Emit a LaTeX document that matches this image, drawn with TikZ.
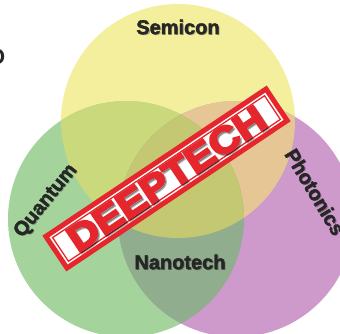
\documentclass[tikz,border=0pt]{standalone}
\usepackage{fontspec}
\setmainfont{Liberation Sans}
\usepackage{graphicx}
\definecolor{cy}{HTML}{F4EF9D}
\definecolor{cg}{HTML}{A4D49C}
\definecolor{cp}{HTML}{CE99CB}
\definecolor{cyg}{HTML}{C9D97B}
\definecolor{cyp}{HTML}{E6C695}
\definecolor{cgp}{HTML}{90AD8D}
\definecolor{cygp}{HTML}{C5C873}
\definecolor{stampred}{HTML}{E5262D}
\definecolor{labelgray}{HTML}{262626}
\newcommand{\heavytext}[2]{\special{pdf:literal 2 Tr #1 w}#2\special{pdf:literal 0 Tr}}
\newcommand{\deeptxt}{\resizebox{230pt}{25.5pt}{\bfseries\heavytext{0.55}{DEEPTECH}}}
\begin{document}
\begin{tikzpicture}[x=1pt,y=-1pt,
  lbl/.style={font=\bfseries\fontsize{20}{20}\selectfont, text=labelgray, inner sep=0pt},
  lblshadow/.style={font=\bfseries\fontsize{20}{20}\selectfont, text=black, opacity=0.3, inner sep=0pt},
  stampouter/.style={rotate=33.8, draw=stampred, fill=white, line width=5pt, minimum width=265pt, minimum height=38pt, inner sep=0pt},
  stampinner/.style={rotate=33.8, draw=stampred, line width=1.3pt, minimum width=255pt, minimum height=28.5pt, inner sep=0pt},
  stamptext/.style={rotate=33.8, inner sep=0pt, text=stampred},
  stampshadow/.style={rotate=33.8, inner sep=0pt, text=black, opacity=0.3}]
\useasboundingbox (0,0) rectangle (340,333);
\clip (0,0) rectangle (340,333);
\fill[white] (0,0) rectangle (340,333);
\coordinate (Y) at (178,121);
\coordinate (G) at (126,219);
\coordinate (P) at (236,219);
% base circles
\fill[cy] (Y) circle (117);
\fill[cg] (G) circle (118);
\fill[cp] (P) circle (118);
% pairwise overlaps
\begin{scope}
  \clip (Y) circle (117);
  \fill[cyg] (G) circle (118);
  \fill[cyp] (P) circle (118);
\end{scope}
\begin{scope}
  \clip (G) circle (118);
  \fill[cgp] (P) circle (118);
\end{scope}
\begin{scope}
  \clip (Y) circle (117);
  \clip (G) circle (118);
  \fill[cygp] (P) circle (118);
\end{scope}
% cropped glyph at left edge
\node[font=\bfseries\fontsize{22}{22}\selectfont, text=labelgray, anchor=east, inner sep=0pt] (frag) at (5.5,57) {O};
% labels
\node[lblshadow] at (179.2,28.2) {Semicon};
\node[lbl] (semicon) at (178,27) {\heavytext{0.4}{Semicon}};
\node[lblshadow] at (181.2,263.2) {Nanotech};
\node[lbl] (nanotech) at (180,262) {\heavytext{0.4}{Nanotech}};
\node[lblshadow, rotate=51] at (47.2,202.2) {Quantum};
\node[lbl, rotate=51] (quantum) at (46,201) {\heavytext{0.4}{Quantum}};
\node[lblshadow, rotate=-59] at (316.2,193.2) {Photonics};
\node[lbl, rotate=-59] (photonics) at (315,192) {\heavytext{0.4}{Photonics}};
% stamp
\node[stampouter] (stamp) at (166.5,178.5) {};
\node[stampinner] (stampline) at (stamp.center) {};
\node[stampshadow] at (168.3,180.3) {\deeptxt};
\node[stamptext] (deeptech) at (stamp.center) {\deeptxt};
\end{tikzpicture}
\end{document}
